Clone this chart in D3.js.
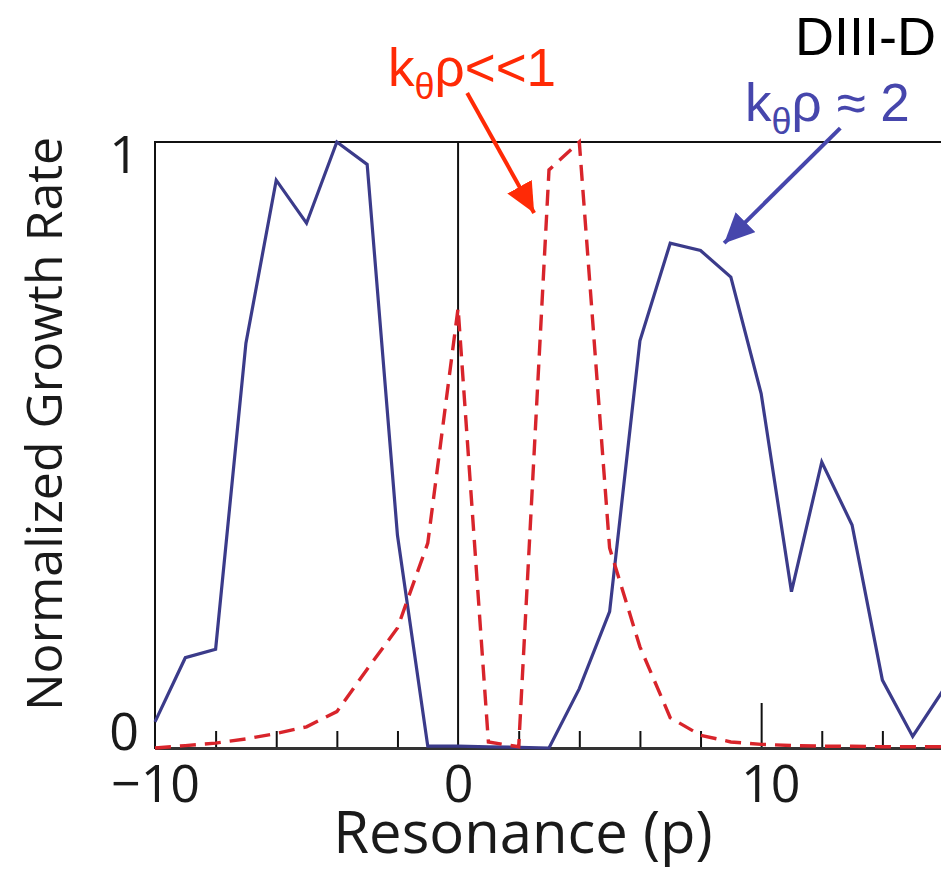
<!DOCTYPE html>
<head>
  <meta charset="utf-8">
  <script src="https://d3js.org/d3.v7.min.js"></script>
  <style>
    body { margin:0; background:#fff; }
    svg { display:block; }
    .lbl { font-family:"Open Sans", sans-serif; fill:#1a1a1a; }
    .note { font-family:"Liberation Sans", Arial, sans-serif; }
  </style>
</head>

<body>
  <script>
    // resonance index p and normalized growth rates
    var resonance = [-10, -9, -8, -7, -6, -5, -4, -3, -2, -1, 0, 1, 2, 3, 4, 5, 6, 7, 8, 9, 10, 11, 12, 13, 14, 15, 16];
    var rateHigh = [0.043, 0.149, 0.163, 0.668, 0.937, 0.866, 1.0, 0.963, 0.351, 0.003, 0.003, 0.002, 0.001, 0.0,
                    0.098, 0.225, 0.672, 0.833, 0.821, 0.777, 0.585, 0.258, 0.472, 0.368, 0.112, 0.019, 0.095];
    var rateLow = [0.0, 0.004, 0.008, 0.015, 0.024, 0.035, 0.06, 0.13, 0.198, 0.338, 0.726, 0.01, 0.002, 0.954,
                   1.0, 0.33, 0.167, 0.05, 0.021, 0.01, 0.006, 0.004, 0.003, 0.003, 0.002, 0.002, 0.002];
    var minorTicks = [-8, -6, -4, -2, 2, 4, 6, 8, 12, 14, 16];
    var majorTicks = [10];
    var xLabels = [-10, 0, 10];
    var yLabels = [0, 1];

    var width = 941,
        height = 869;
    var svg = d3.select("body").append("svg")
      .attr("width", width)
      .attr("height", height);

    var xScale = d3.scaleLinear().domain([-10, 16]).range([155, 943]);
    var yScale = d3.scaleLinear().domain([0, 1]).range([748, 142]);

    var blue = "#3b3b8a", red = "#d8242b";

    // defs for arrow heads
    var defs = svg.append("defs");
    [["headRed", "#ff2a06"], ["headBlue", "#4646ac"]].forEach(function(m) {
      defs.append("marker")
        .attr("id", m[0])
        .attr("markerUnits", "userSpaceOnUse")
        .attr("viewBox", "0 0 30 28")
        .attr("refX", 30).attr("refY", 14)
        .attr("markerWidth", 30).attr("markerHeight", 28)
        .attr("orient", "auto")
        .append("path")
        .attr("d", "M0,0L30,14L0,28Z")
        .attr("fill", m[1]);
    });

    // minor ticks, pointing up
    svg.append("g")
      .attr("transform", "translate(0," + yScale(0) + ")")
      .call(d3.axisBottom(xScale).tickValues(minorTicks).tickSize(-17).tickFormat(""))
      .call(function(g) { g.select(".domain").remove(); })
      .selectAll("line").attr("stroke", "#111").attr("stroke-width", 2);

    // long tick at 10
    svg.append("g")
      .attr("transform", "translate(0," + yScale(0) + ")")
      .call(d3.axisBottom(xScale).tickValues(majorTicks).tickSize(-45).tickFormat(""))
      .call(function(g) { g.select(".domain").remove(); })
      .selectAll("line").attr("stroke", "#111").attr("stroke-width", 2);

    // zero line
    svg.append("line")
      .attr("x1", xScale(0)).attr("x2", xScale(0))
      .attr("y1", yScale(0)).attr("y2", yScale(1))
      .attr("stroke", "#111").attr("stroke-width", 2);

    // x labels
    var xAxis = svg.append("g")
      .attr("transform", "translate(0," + yScale(0) + ")")
      .call(d3.axisBottom(xScale).tickValues(xLabels).tickSize(0).tickPadding(17).tickFormat(d3.format("d")))
      .call(function(g) { g.select(".domain").remove(); });
    xAxis.selectAll("text")
      .attr("class", "lbl")
      .style("font-size", "52px")
      .attr("dy", "0.71em")
      .attr("dx", function(d) { return d === 10 ? 9 : 0; });

    // y labels
    var yAxis = svg.append("g")
      .attr("transform", "translate(" + xScale(-10) + ",0)")
      .call(d3.axisLeft(yScale).tickValues(yLabels).tickSize(0).tickPadding(16).tickFormat(d3.format("d")))
      .call(function(g) { g.select(".domain").remove(); });
    yAxis.selectAll("text")
      .attr("class", "lbl")
      .style("font-size", "52px")
      .attr("dy", function(d) { return d === 1 ? 30 : 1; });

    // frame
    svg.append("rect")
      .attr("x", xScale(-10)).attr("y", yScale(1))
      .attr("width", xScale(16) - xScale(-10))
      .attr("height", yScale(0) - yScale(1))
      .attr("fill", "none").attr("stroke", "#111").attr("stroke-width", 2);
    svg.append("line")
      .attr("x1", xScale(-10)).attr("x2", xScale(16))
      .attr("y1", yScale(0) + 0.5).attr("y2", yScale(0) + 0.5)
      .attr("stroke", "#333").attr("stroke-width", 3);

    var line = d3.line()
      .x(function(d, i) { return xScale(resonance[i]); })
      .y(function(d) { return yScale(d); });

    svg.append("path")
      .datum(rateHigh)
      .attr("d", line)
      .attr("fill", "none")
      .attr("stroke", blue)
      .attr("stroke-width", 3.2);

    svg.append("path")
      .datum(rateLow)
      .attr("d", line)
      .attr("fill", "none")
      .attr("stroke", red)
      .attr("stroke-width", 3.4)
      .attr("stroke-dasharray", "16,9");

    // axis titles
    svg.append("text")
      .attr("class", "lbl")
      .attr("x", 523).attr("y", 853)
      .attr("text-anchor", "middle")
      .style("font-size", "58px")
      .text("Resonance (p)");

    svg.append("text")
      .attr("class", "lbl")
      .attr("transform", "translate(62,424) rotate(-90)")
      .attr("text-anchor", "middle")
      .style("font-size", "50px")
      .text("Normalized Growth Rate");

    // annotations
    svg.append("text")
      .attr("class", "note")
      .attr("x", 795).attr("y", 55)
      .style("font-size", "54px")
      .attr("fill", "#000")
      .text("DIII-D");

    var tRed = svg.append("text")
      .attr("class", "note")
      .attr("x", 388).attr("y", 86)
      .style("font-size", "53px")
      .attr("fill", "#ff2a06");
    tRed.append("tspan").text("k");
    tRed.append("tspan").attr("dy", 13).style("font-size", "36px").text("\u03b8");
    tRed.append("tspan").attr("dy", -13).text("\u03c1<<1");

    var tBlue = svg.append("text")
      .attr("class", "note")
      .attr("x", 745).attr("y", 121)
      .style("font-size", "53px")
      .attr("fill", "#4646ac");
    tBlue.append("tspan").text("k");
    tBlue.append("tspan").attr("dy", 13).style("font-size", "36px").text("\u03b8");
    tBlue.append("tspan").attr("dy", -13).text("\u03c1 \u2248 2");

    // arrows placed in data space
    svg.append("line")
      .attr("x1", xScale(0.3)).attr("y1", yScale(1.081))
      .attr("x2", xScale(2.51)).attr("y2", yScale(0.883))
      .attr("stroke", "#ff2a06").attr("stroke-width", 4)
      .attr("marker-end", "url(#headRed)");

    svg.append("line")
      .attr("x1", xScale(12.61)).attr("y1", yScale(1.023))
      .attr("x2", xScale(8.78)).attr("y2", yScale(0.833))
      .attr("stroke", "#4646ac").attr("stroke-width", 4)
      .attr("marker-end", "url(#headBlue)");
  </script>
</body>
